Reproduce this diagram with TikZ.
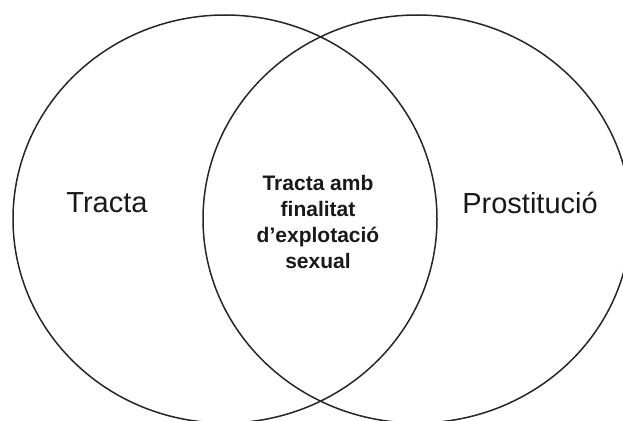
\documentclass[tikz,border=0pt]{standalone}
\usepackage{fontspec}
\setmainfont{Liberation Sans}
\usetikzlibrary{shapes.geometric}
\begin{document}
\begin{tikzpicture}[x=1pt,y=-1pt,
  setellipse/.style={ellipse, draw=black!85, line width=1.5pt, inner sep=0pt, outer sep=0pt},
  biglabel/.style={font=\fontsize{29}{35}\selectfont, text=black!90, inner sep=0pt},
  midlabel/.style={font=\fontsize{21}{26}\selectfont\bfseries, text=black!90, align=center, inner sep=0pt}]
\useasboundingbox (0,0) rectangle (623,420);
\clip (0,0) rectangle (623,420);
\node[setellipse, minimum width=424pt, minimum height=408pt] (left) at (225,219) {};
\node[setellipse, minimum width=428pt, minimum height=408pt] (right) at (417,219) {};
\node[biglabel] (ltext) at (107,203) {Tracta};
\node[biglabel] (rtext) at (530,203) {Prostitució};
\node[midlabel] (mtext) at (318,222) {Tracta amb\\finalitat\\d’explotació\\sexual};
\end{tikzpicture}
\end{document}
